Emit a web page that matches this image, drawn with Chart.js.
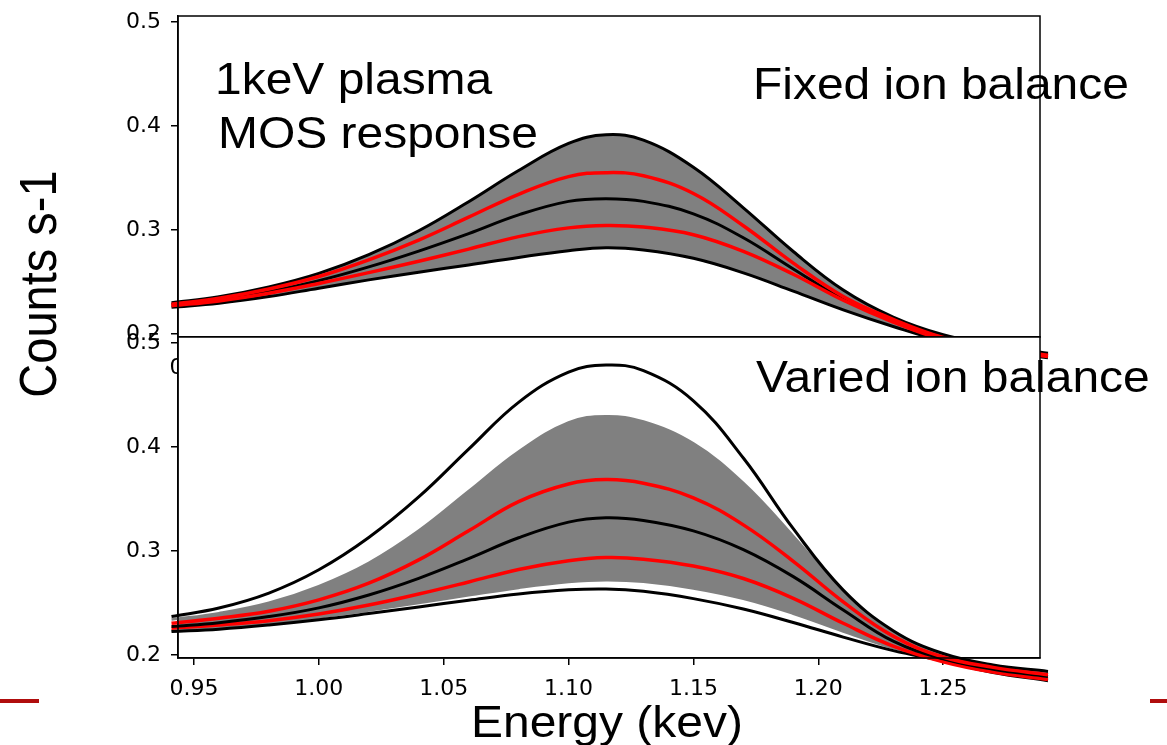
<!DOCTYPE html>
<html>
<head>
<meta charset="utf-8">
<script src="https://cdn.jsdelivr.net/npm/chart.js@4.4.0/dist/chart.umd.min.js"></script>
<style>
  body { margin: 0; background: #fff; width: 1167px; height: 745px; overflow: hidden; position: relative; }
  .panel { position: absolute; left: 0; top: 0; width: 1167px; height: 745px; }
  .rule { position: absolute; top: 699px; height: 4px; background: #b00d0d; }
</style>
</head>
<body>
<div class="rule" style="left:0;width:39px"></div>
<div class="rule" style="left:1150px;width:17px"></div>
<div class="panel"><canvas id="fixed"></canvas></div>
<div class="panel"><canvas id="varied"></canvas></div>
<script>
// energy grid (keV) shared by every curve
const energy = [0.941, 0.96, 0.98, 1.00, 1.02, 1.04, 1.06, 1.08, 1.10, 1.115, 1.13, 1.15, 1.17, 1.19, 1.21, 1.23, 1.25, 1.27, 1.292];

// fixed ion balance: envelope, 1-sigma (red) and mean
const fixedMax = [0.230, 0.2357, 0.2451, 0.2581, 0.2761, 0.2991, 0.3271, 0.3571, 0.3831, 0.3914, 0.3862, 0.3602, 0.3212, 0.2792, 0.2422, 0.2162, 0.1992, 0.1892, 0.1813];
const fixedHi  = [0.2285, 0.2342, 0.2432, 0.2552, 0.2712, 0.2902, 0.3122, 0.3342, 0.3512, 0.355, 0.352, 0.335, 0.304, 0.268, 0.236, 0.214, 0.1965, 0.1865, 0.1795];
const fixedMid = [0.228, 0.2328, 0.2408, 0.2512, 0.2644, 0.2796, 0.2964, 0.3144, 0.3274, 0.33, 0.3274, 0.3154, 0.2924, 0.2624, 0.2334, 0.2124, 0.1954, 0.1864, 0.1794];
const fixedLo  = [0.227, 0.2317, 0.2391, 0.2485, 0.2589, 0.2699, 0.2815, 0.2935, 0.3019, 0.3042, 0.3027, 0.2953, 0.2793, 0.2573, 0.2323, 0.2113, 0.1943, 0.1853, 0.1783];
const fixedMin = [0.2255, 0.2295, 0.2359, 0.2439, 0.2519, 0.2593, 0.2663, 0.2735, 0.2799, 0.2829, 0.2807, 0.2727, 0.2587, 0.2411, 0.2231, 0.2071, 0.1931, 0.1841, 0.177];

// varied ion balance
const variedMax    = [0.2368, 0.245, 0.2594, 0.2818, 0.3128, 0.3518, 0.3978, 0.4428, 0.4718, 0.4786, 0.4733, 0.4443, 0.3893, 0.3213, 0.2623, 0.2233, 0.2013, 0.1903, 0.1841];
const variedBandHi = [0.234, 0.2401, 0.2501, 0.2661, 0.2885, 0.3195, 0.3575, 0.3955, 0.4235, 0.4295, 0.4243, 0.4033, 0.3653, 0.3143, 0.2603, 0.2213, 0.1995, 0.189, 0.1825];
const variedHi     = [0.2305, 0.2353, 0.2419, 0.2529, 0.2689, 0.2913, 0.3193, 0.3473, 0.3643, 0.3685, 0.365, 0.351, 0.325, 0.29, 0.251, 0.218, 0.198, 0.188, 0.181];
const variedMid    = [0.2272, 0.231, 0.2368, 0.2452, 0.2576, 0.2736, 0.2926, 0.3126, 0.3276, 0.3318, 0.3292, 0.3192, 0.3012, 0.2752, 0.2432, 0.2132, 0.1962, 0.1862, 0.1792];
const variedLo     = [0.2257, 0.2287, 0.2329, 0.2393, 0.2479, 0.2585, 0.2701, 0.2821, 0.2905, 0.2935, 0.292, 0.2854, 0.2734, 0.2544, 0.2304, 0.2084, 0.1934, 0.1834, 0.1764];
const variedBandLo = [0.2235, 0.226, 0.2304, 0.236, 0.2426, 0.2498, 0.2572, 0.2644, 0.27, 0.2718, 0.2703, 0.2639, 0.2539, 0.2395, 0.2225, 0.2065, 0.1955, 0.1855, 0.1776];
const variedMin    = [0.2224, 0.2247, 0.2287, 0.2337, 0.2397, 0.2461, 0.2525, 0.2585, 0.2625, 0.2633, 0.2611, 0.2541, 0.2441, 0.2311, 0.2171, 0.2041, 0.1941, 0.1831, 0.1752];

const xTicks = [0.95, 1.00, 1.05, 1.10, 1.15, 1.20, 1.25];
const yTicks = [0.2, 0.3, 0.4, 0.5];
const X_MIN = 0.9436, X_MAX = 1.2888;
const Y_MIN = 0.197, Y_MAX = 0.5056;

const GRAY = '#808080', RED = '#ff0000', BLACK = '#000000';

function series(values) {
  return energy.map((e, i) => ({ x: e, y: values[i] }));
}

function curve(values, color, width, order, extra) {
  return Object.assign({
    data: series(values),
    borderColor: color,
    borderWidth: width,
    pointRadius: 0,
    tension: 0.4,
    clip: false,
    fill: false,
    order: order
  }, extra || {});
}

// box round the axes (top and right spines too)
const frame = {
  id: 'frame',
  afterDraw(chart) {
    const a = chart.chartArea, ctx = chart.ctx;
    ctx.save();
    ctx.strokeStyle = BLACK;
    ctx.lineWidth = 1.5;
    ctx.strokeRect(a.left, a.top, a.right - a.left, a.bottom - a.top);
    ctx.restore();
  }
};

// lower axes paint their own white background over the upper ones
const backdrop = {
  id: 'backdrop',
  beforeDraw(chart) {
    const a = chart.chartArea, ctx = chart.ctx;
    ctx.save();
    ctx.fillStyle = '#fff';
    ctx.fillRect(a.left, a.top, a.right - a.left, a.bottom - a.top);
    ctx.restore();
  }
};

function label(ctx, txt, x, y, size, rot) {
  ctx.save();
  ctx.translate(x, y);
  ctx.font = size + 'px "Liberation Sans", Arial, sans-serif';
  ctx.fillStyle = BLACK;
  if (rot) {
    ctx.rotate(rot);
    ctx.scale(1, 1.09);
    ctx.textAlign = 'center';
  } else {
    ctx.scale(1.09, 1);
    ctx.textAlign = 'left';
  }
  ctx.textBaseline = 'alphabetic';
  ctx.fillText(txt, 0, 0);
  ctx.restore();
}

const annotations = {
  id: 'annotations',
  afterDraw(chart) {
    const ctx = chart.ctx;
    label(ctx, '1keV plasma', 215, 94, 44);
    label(ctx, 'MOS response', 218, 148, 44);
    label(ctx, 'Fixed ion balance', 753, 99, 44);
    label(ctx, 'Varied ion balance', 756, 392, 44);
    label(ctx, 'Energy (kev)', 471, 737, 44);
    label(ctx, 'Counts s-1', 56, 284, 47, -Math.PI / 2);
  }
};

function panel(id, datasets, top, plugins) {
  return new Chart(document.getElementById(id), {
    type: 'line',
    data: { datasets: datasets },
    options: {
      responsive: true,
      maintainAspectRatio: false,
      animation: false,
      events: [],
      layout: { padding: { left: 0, right: 127, top: top, bottom: 745 - (top + 321) - 87 } },
      plugins: { legend: { display: false }, tooltip: { enabled: false } },
      scales: {
        x: {
          type: 'linear',
          min: X_MIN,
          max: X_MAX,
          afterBuildTicks: s => { s.ticks = xTicks.map(v => ({ value: v })); },
          afterFit: s => { s.height = 87; s.paddingLeft = 0; s.paddingRight = 0; },
          ticks: {
            callback: v => v.toFixed(2),
            color: BLACK,
            font: { family: 'DejaVu Sans', size: 22 },
            padding: 11,
            maxRotation: 0,
            autoSkip: false
          },
          grid: { drawOnChartArea: false, drawTicks: true, tickLength: 7, color: BLACK, lineWidth: 1.5 },
          border: { display: true, color: BLACK, width: 1.5 }
        },
        y: {
          type: 'linear',
          min: Y_MIN,
          max: Y_MAX,
          afterBuildTicks: s => { s.ticks = yTicks.map(v => ({ value: v })); },
          afterFit: s => { s.width = 178; s.paddingTop = 0; s.paddingBottom = 0; },
          ticks: {
            callback: v => v.toFixed(1),
            color: BLACK,
            font: { family: 'DejaVu Sans', size: 22 },
            padding: 10
          },
          grid: { drawOnChartArea: false, drawTicks: true, tickLength: 7, color: BLACK, lineWidth: 1.5 },
          border: { display: true, color: BLACK, width: 1.5 }
        }
      }
    },
    plugins: plugins
  });
}

panel('fixed', [
  curve(fixedMax, BLACK, 3, 3, { fill: 4, backgroundColor: GRAY }),
  curve(fixedHi, RED, 3.5, 1),
  curve(fixedMid, BLACK, 3, 2),
  curve(fixedLo, RED, 3.5, 1),
  curve(fixedMin, BLACK, 3, 2)
], 16, [frame]);

panel('varied', [
  curve(variedBandHi, GRAY, 2.5, 4, { fill: 1, backgroundColor: GRAY }),
  curve(variedBandLo, GRAY, 2.5, 4),
  curve(variedMax, BLACK, 3, 2),
  curve(variedHi, RED, 3.5, 1),
  curve(variedMid, BLACK, 3, 1),
  curve(variedLo, RED, 3.5, 1),
  curve(variedMin, BLACK, 3, 2)
], 337, [backdrop, frame, annotations]);
</script>
</body>
</html>
